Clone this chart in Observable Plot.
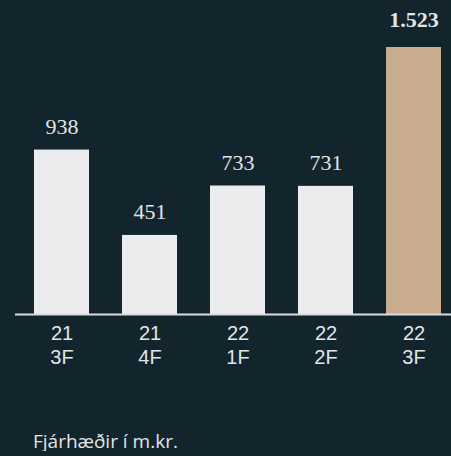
<!DOCTYPE html>
<html>
<head>
<meta charset="utf-8">
<script src="https://cdn.jsdelivr.net/npm/d3@7"></script>
<script src="https://cdn.jsdelivr.net/npm/@observablehq/plot@0.6"></script>
<style>
  html, body { margin: 0; padding: 0; background: #12242c; }
  #chart svg { display: block; background: #12242c; }
  #caption { font-family: "Open Sans", sans-serif; font-size: 19px; color: #e2e4e6; padding-left: 33px; margin-top: 32px; line-height: 1; }
</style>
</head>
<body>
<div id="chart"></div>
<div id="caption">Fjárhæðir í m.kr.</div>
<script>
const periods = ["21\n3F", "21\n4F", "22\n1F", "22\n2F", "22\n3F"];
const values = [938, 451, 733, 731, 1523];
const valueLabels = ["938", "451", "733", "731", "1.523"];
const highlight = [false, false, false, false, true];

const data = periods.map((p, i) => ({period: p, value: values[i], label: valueLabels[i], hl: highlight[i]}));

const chart = Plot.plot({
  width: 451,
  height: 400,
  marginTop: 47,
  marginBottom: 86,
  marginLeft: 15,
  marginRight: 0,
  style: {background: "#12242c", color: "#e2e4e6"},
  x: {domain: periods, paddingInner: 0.38, paddingOuter: 0.146, align: 0.654, label: null},
  y: {domain: [0, 1523], axis: null},
  marks: [
    Plot.barY(data, {x: "period", y: "value", fill: d => d.hl ? "#c9ab8e" : "#ebecee"}),
    Plot.ruleY([0], {stroke: "#dcdcdc", strokeWidth: 2}),
    Plot.axisX({tickSize: 0, tickPadding: 8, fontSize: 20, lineHeight: 1.2, fontFamily: "Liberation Sans, Arial, sans-serif", fill: "#e2e4e6"}),
    Plot.text(data.filter(d => !d.hl), {x: "period", y: "value", text: "label", dy: -16, lineAnchor: "bottom", fontSize: 22, fontFamily: "Liberation Serif, serif", fill: "#e2e4e6"}),
    Plot.text(data.filter(d => d.hl), {x: "period", y: "value", text: "label", dy: -21, lineAnchor: "bottom", fontSize: 22, fontWeight: "bold", fontFamily: "Liberation Serif, serif", fill: "#e2e4e6"})
  ]
});
document.getElementById("chart").appendChild(chart);
</script>
</body>
</html>
